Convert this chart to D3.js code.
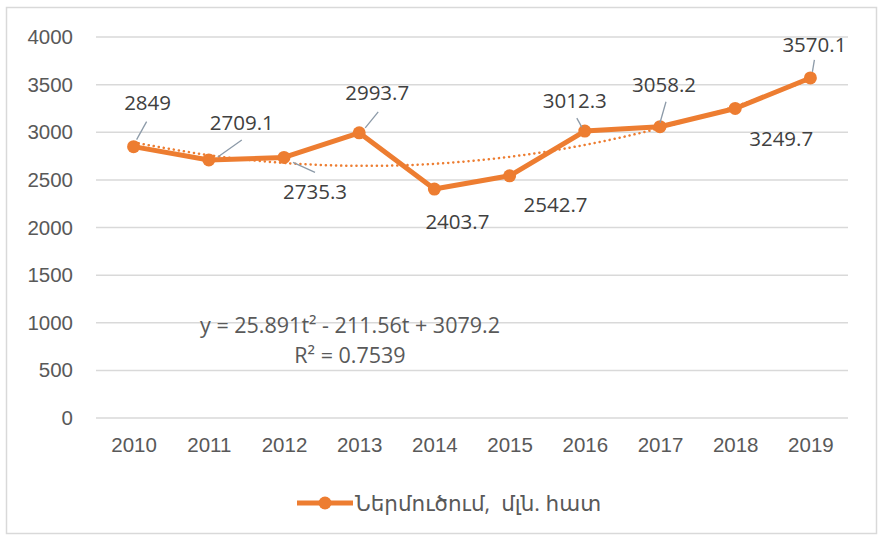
<!DOCTYPE html>
<html>
<head>
<meta charset="utf-8">
<script src="https://cdn.jsdelivr.net/npm/d3@7"></script>
<style>
  body { margin: 0; background: #fff; }
  svg { font-family: 'Open Sans', 'DejaVu Sans', sans-serif; }
</style>
</head>
<body>
<div id="line-chart"></div>
<script>
// data
const years = ['2010', '2011', '2012', '2013', '2014', '2015', '2016', '2017', '2018', '2019']
const imports = [2849, 2709.1, 2735.3, 2993.7, 2403.7, 2542.7, 3012.3, 3058.2, 3249.7, 3570.1]
// polynomial trend line
const trendValues = [2893.5, 2759.6, 2677.5, 2647.2, 2668.7, 2741.9, 2866.9, 3043.7, 3272.4, 3552.7]
const yTicks = [0, 500, 1000, 1500, 2000, 2500, 3000, 3500, 4000]
const legendLabel = 'Ներմուծում,  մլն. հատ'
const equationLines = ['y = 25.891t² - 211.56t + 3079.2', 'R² = 0.7539']

// layout: label text offset from its point, and leader line (x1, y1, x2, y2) offsets
const labelOffsets = [
  [14, -37], [33, -30], [31, 42], [18, -33], [23, 40], [46, 36], [-10, -23], [4, -35], [46, 38], [4, -26]
]
const leaderOffsets = [
  [13, -25, 3, -7], [33, -20, 9, -3], [9, 5, 31, 15], [19, -21, 6, -5], null, null,
  [-8, -13, -3, -4], [6, -25, 0, -4], null, [4, -18, 2, -6]
]

const width = 879
const height = 537
const margin = { top: 37, right: 31, bottom: 119, left: 96 }
const innerW = width - margin.left - margin.right
const innerH = height - margin.top - margin.bottom
const orange = '#ED7D31'
const fontSize = 20.5

const svg = d3.select('#line-chart')
  .append('svg')
  .attr('width', width)
  .attr('height', height)

svg.append('rect')
  .attr('x', 6.5).attr('y', 7.5)
  .attr('width', 870).attr('height', 526)
  .attr('fill', '#fff')
  .attr('stroke', '#d9d9d9')
  .attr('stroke-width', 1.5)

const g = svg.append('g')
  .attr('transform', 'translate(' + margin.left + ',' + margin.top + ')')

const x = d3.scalePoint().domain(years).range([0, innerW]).padding(0.5)
const y = d3.scaleLinear().domain([0, 4000]).range([innerH, 0])

// gridlines
g.append('g')
  .selectAll('line')
  .data(yTicks)
  .join('line')
  .attr('x1', 0).attr('x2', innerW)
  .attr('y1', d => y(d)).attr('y2', d => y(d))
  .attr('stroke', '#d9d9d9')
  .attr('stroke-width', 1.5)

// y axis
const yAxis = g.append('g')
  .call(d3.axisLeft(y).tickValues(yTicks).tickFormat(d3.format('d')).tickSize(0).tickPadding(23))
yAxis.select('.domain').remove()
yAxis.selectAll('text')
  .attr('font-size', fontSize)
  .attr('fill', '#595959')
  .attr('font-family', null)

// x axis
const xAxis = g.append('g')
  .attr('transform', 'translate(0,' + innerH + ')')
  .call(d3.axisBottom(x).tickSize(0).tickPadding(19))
xAxis.select('.domain').remove()
xAxis.selectAll('text')
  .attr('font-size', fontSize)
  .attr('fill', '#595959')
  .attr('font-family', null)

// trend line
g.append('path')
  .datum(trendValues)
  .attr('fill', 'none')
  .attr('stroke', orange)
  .attr('stroke-width', 2.5)
  .attr('stroke-linecap', 'round')
  .attr('stroke-dasharray', '0.1 5')
  .attr('d', d3.line()
    .x((d, i) => x(years[i]))
    .y(d => y(d))
    .curve(d3.curveNatural))

// main line
g.append('path')
  .datum(imports)
  .attr('fill', 'none')
  .attr('stroke', orange)
  .attr('stroke-width', 5)
  .attr('stroke-linejoin', 'round')
  .attr('d', d3.line()
    .x((d, i) => x(years[i]))
    .y(d => y(d)))

g.selectAll('.point')
  .data(imports)
  .join('circle')
  .attr('class', 'point')
  .attr('cx', (d, i) => x(years[i]))
  .attr('cy', d => y(d))
  .attr('r', 6.5)
  .attr('fill', orange)

// leader lines
const leaders = imports.map((v, i) => ({ v, i, o: leaderOffsets[i] })).filter(d => d.o)
g.selectAll('.leader')
  .data(leaders)
  .join('line')
  .attr('class', 'leader')
  .attr('x1', d => x(years[d.i]) + d.o[0])
  .attr('y1', d => y(d.v) + d.o[1])
  .attr('x2', d => x(years[d.i]) + d.o[2])
  .attr('y2', d => y(d.v) + d.o[3])
  .attr('stroke', '#8c9aa8')
  .attr('stroke-width', 1.3)

g.selectAll('.value-label')
  .data(imports)
  .join('text')
  .attr('class', 'value-label')
  .attr('x', (d, i) => x(years[i]) + labelOffsets[i][0])
  .attr('y', (d, i) => y(d) + labelOffsets[i][1])
  .attr('text-anchor', 'middle')
  .attr('font-size', fontSize)
  .attr('fill', '#404040')
  .text(d => d)

// trend equation
g.selectAll('.equation')
  .data(equationLines)
  .join('text')
  .attr('class', 'equation')
  .attr('x', 254)
  .attr('y', (d, i) => 296 + i * 30)
  .attr('text-anchor', 'middle')
  .attr('font-size', 21.5)
  .attr('fill', '#595959')
  .text(d => d)

// legend
const legend = svg.append('g').attr('transform', 'translate(297,503)')
legend.append('line')
  .attr('x1', 0).attr('x2', 56)
  .attr('stroke', orange).attr('stroke-width', 5)
legend.append('circle')
  .attr('cx', 28).attr('r', 6.5).attr('fill', orange)
legend.append('text')
  .attr('x', 58).attr('y', 8)
  .attr('font-size', 21.5)
  .attr('fill', '#595959')
  .style('white-space', 'pre')
  .text(legendLabel)
</script>
</body>
</html>
